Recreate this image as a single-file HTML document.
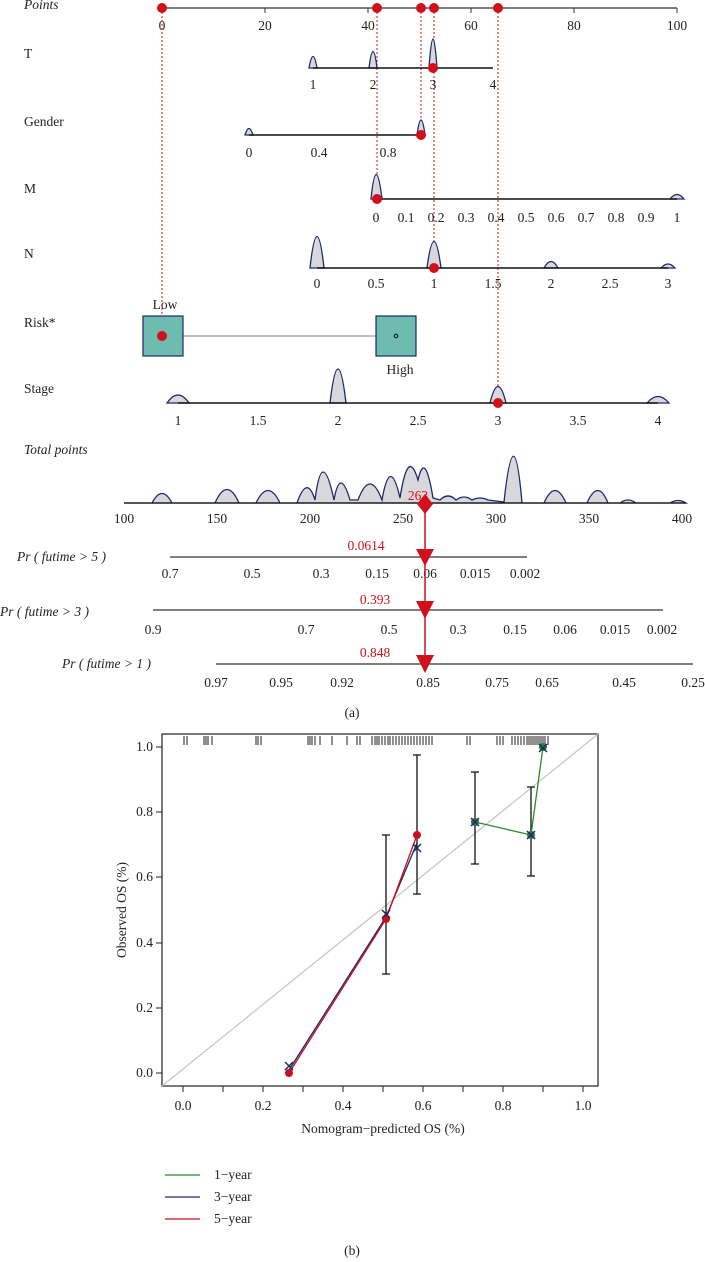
<!DOCTYPE html>
<html><head><meta charset="utf-8"><style>
html,body{margin:0;padding:0;background:#fff}
svg{display:block}
text{font-family:"Liberation Serif",serif;font-size:13.5px;fill:#222}
.it{font-style:italic}
.r{fill:#d0101a}
</style></head><body>
<svg width="705" height="1262" viewBox="0 0 705 1262" xmlns="http://www.w3.org/2000/svg">
<!-- Points -->
<text x="24" y="9" class="it">Points</text>
<line x1="162" y1="8" x2="677" y2="8" stroke="#333" stroke-width="1.3"/>
<g stroke="#333"><line x1="162" y1="8" x2="162" y2="13"/><line x1="265" y1="8" x2="265" y2="13"/><line x1="368" y1="8" x2="368" y2="13"/><line x1="471" y1="8" x2="471" y2="13"/><line x1="574" y1="8" x2="574" y2="13"/><line x1="677" y1="8" x2="677" y2="13"/></g>
<g text-anchor="middle"><text x="162" y="30">0</text><text x="265" y="30">20</text><text x="368" y="30">40</text><text x="471" y="30">60</text><text x="574" y="30">80</text><text x="677" y="30">100</text></g>
<!-- dotted red lines -->
<g stroke="#d0101a" stroke-dasharray="2,2" stroke-width="1">
<line x1="162" y1="8" x2="162" y2="336"/><line x1="377" y1="8" x2="377" y2="199"/><line x1="421" y1="8" x2="421" y2="135"/><line x1="434" y1="8" x2="434" y2="268"/><line x1="498" y1="8" x2="498" y2="403"/></g>
<!-- T -->
<text x="24" y="58">T</text>
<g fill="#d8d8dc" stroke="#1a2a6c" stroke-width="1.3">
<path d="M309,68 Q313,45 317,68Z"/><path d="M369,68 Q373,35 377,68Z"/><path d="M429,68 Q433,10 437,68Z"/>
<path d="M245,135 Q249,122 253,135Z"/><path d="M417,135 Q421,105 425,135Z"/>
<path d="M371,199 Q376,150 382,199Z"/><path d="M670,199 Q677,190 684,199Z"/>
<path d="M310,268 Q317,205 324,268Z"/><path d="M427,268 Q434,215 441,268Z"/><path d="M544,268 Q551,255 558,268Z"/><path d="M661,268 Q668,260 675,268Z"/>
<path d="M167,403 Q178,387 189,403Z"/><path d="M330,403 Q338,335 346,403Z"/><path d="M490,403 Q498,370 506,403Z"/><path d="M647,403 Q658,390 669,403Z"/>
</g>
<line x1="313" y1="68" x2="493" y2="68" stroke="#111" stroke-width="1.6"/>
<g text-anchor="middle"><text x="313" y="89">1</text><text x="373" y="89">2</text><text x="433" y="89">3</text><text x="493" y="89">4</text></g>
<!-- Gender -->
<text x="24" y="126">Gender</text>
<line x1="249" y1="135" x2="421" y2="135" stroke="#111" stroke-width="1.6"/>
<g text-anchor="middle"><text x="249" y="157">0</text><text x="319" y="157">0.4</text><text x="388" y="157">0.8</text></g>
<!-- M -->
<text x="24" y="193">M</text>
<line x1="376" y1="199" x2="677" y2="199" stroke="#111" stroke-width="1.6"/>
<g text-anchor="middle"><text x="376" y="222">0</text><text x="406" y="222">0.1</text><text x="436" y="222">0.2</text><text x="466" y="222">0.3</text><text x="496" y="222">0.4</text><text x="526" y="222">0.5</text><text x="556" y="222">0.6</text><text x="586" y="222">0.7</text><text x="616" y="222">0.8</text><text x="646" y="222">0.9</text><text x="677" y="222">1</text></g>
<!-- N -->
<text x="24" y="258">N</text>
<line x1="317" y1="268" x2="668" y2="268" stroke="#111" stroke-width="1.6"/>
<g text-anchor="middle"><text x="317" y="288">0</text><text x="376" y="288">0.5</text><text x="434" y="288">1</text><text x="493" y="288">1.5</text><text x="551" y="288">2</text><text x="610" y="288">2.5</text><text x="668" y="288">3</text></g>
<!-- Risk -->
<text x="24" y="327">Risk*</text>
<line x1="183" y1="336" x2="376" y2="336" stroke="#999" stroke-width="1.3"/>
<rect x="143" y="316" width="40" height="40" fill="#6dbcaf" stroke="#1a2a6c" stroke-width="1.2"/>
<rect x="376" y="316" width="40" height="40" fill="#6dbcaf" stroke="#1a2a6c" stroke-width="1.2"/>
<circle cx="396" cy="336" r="1.8" fill="none" stroke="#111"/>
<text x="165" y="309" text-anchor="middle">Low</text>
<text x="400" y="374" text-anchor="middle">High</text>
<!-- Stage -->
<text x="24" y="393">Stage</text>
<line x1="178" y1="403" x2="658" y2="403" stroke="#111" stroke-width="1.6"/>
<g text-anchor="middle"><text x="178" y="425">1</text><text x="258" y="425">1.5</text><text x="338" y="425">2</text><text x="418" y="425">2.5</text><text x="498" y="425">3</text><text x="578" y="425">3.5</text><text x="658" y="425">4</text></g>
<!-- red dots -->
<g fill="#d0101a"><circle cx="162" cy="8" r="5"/><circle cx="377" cy="8" r="5"/><circle cx="421" cy="8" r="5"/><circle cx="434" cy="8" r="5"/><circle cx="498" cy="8" r="5"/>
<circle cx="433" cy="68" r="5"/><circle cx="421" cy="135" r="5"/><circle cx="377" cy="199" r="5"/><circle cx="434" cy="268" r="5"/><circle cx="162" cy="336" r="5"/><circle cx="498" cy="403" r="5"/></g>
<!-- Total points -->
<text x="24" y="454" class="it">Total points</text>
<path d="M124,503 L152,503 Q162,484 172,503 L215,503 Q227,476 239,503 L256,503 Q268,478 280,503 L297,503 Q307,474 315,500 Q322,444 334,500 Q340,466 350,500 L358,500 Q370,468 382,500 Q390,454 400,498 Q408,446 418,480 Q425,449 433,498 L440,500 Q448,492 456,500 Q464,494 472,500 Q480,496 488,500 L504,502 Q514,410 522,503 L544,503 Q555,478 566,503 L587,503 Q598,478 608,503 L620,503 Q628,497 636,503 L670,503 Q678,498 686,503 Z" fill="#d8d8dc" stroke="#1a2a6c" stroke-width="1.3"/>
<line x1="124" y1="503" x2="686" y2="503" stroke="#111" stroke-width="1.3"/>
<g text-anchor="middle"><text x="124" y="523">100</text><text x="217" y="523">150</text><text x="310" y="523">200</text><text x="403" y="523">250</text><text x="496" y="523">300</text><text x="589" y="523">350</text><text x="682" y="523">400</text></g>
<!-- Pr lines -->
<text x="17" y="561" class="it">Pr ( futime &gt; 5 )</text>
<line x1="170" y1="557" x2="527" y2="557" stroke="#333" stroke-width="1.3"/>
<g text-anchor="middle"><text x="170" y="578">0.7</text><text x="252" y="578">0.5</text><text x="321" y="578">0.3</text><text x="377" y="578">0.15</text><text x="425" y="578">0.06</text><text x="475" y="578">0.015</text><text x="525" y="578">0.002</text></g>
<text x="0" y="616" class="it">Pr ( futime &gt; 3 )</text>
<line x1="153" y1="610" x2="663" y2="610" stroke="#333" stroke-width="1.3"/>
<g text-anchor="middle"><text x="153" y="634">0.9</text><text x="306" y="634">0.7</text><text x="389" y="634">0.5</text><text x="458" y="634">0.3</text><text x="515" y="634">0.15</text><text x="565" y="634">0.06</text><text x="615" y="634">0.015</text><text x="662" y="634">0.002</text></g>
<text x="62" y="668" class="it">Pr ( futime &gt; 1 )</text>
<line x1="216" y1="664" x2="693" y2="664" stroke="#333" stroke-width="1.3"/>
<g text-anchor="middle"><text x="216" y="687">0.97</text><text x="281" y="687">0.95</text><text x="342" y="687">0.92</text><text x="428" y="687">0.85</text><text x="497" y="687">0.75</text><text x="547" y="687">0.65</text><text x="624" y="687">0.45</text><text x="693" y="687">0.25</text></g>
<line x1="425" y1="503" x2="425" y2="664" stroke="#d0101a" stroke-width="1.5"/>
<path d="M425,494 L433,504 L425,514 L417,504Z" fill="#d0101a"/>
<path d="M416,549 L434,549 L425,566Z" fill="#d0101a"/>
<path d="M416,601 L434,601 L425,619Z" fill="#d0101a"/>
<path d="M416,655 L434,655 L425,673Z" fill="#d0101a"/>
<text x="418" y="500" class="r" text-anchor="middle">263</text>
<text x="366" y="550" class="r" text-anchor="middle">0.0614</text>
<text x="375" y="604" class="r" text-anchor="middle">0.393</text>
<text x="375" y="657" class="r" text-anchor="middle">0.848</text>
<text x="352" y="717" text-anchor="middle">(a)</text>
<!-- Calibration -->
<rect x="162" y="734" width="436" height="352" fill="none" stroke="#222" stroke-width="1.2"/>
<line x1="162" y1="1086" x2="598" y2="734" stroke="#c8c8c8" stroke-width="1.3"/>
<g stroke="#222" stroke-width="1">
<path d="M183,1086v6M223,1086v6M263,1086v6M303,1086v6M343,1086v6M383,1086v6M423,1086v6M463,1086v6M503,1086v6M543,1086v6M583,1086v6"/>
<path d="M162,1073h-6M162,1008h-6M162,943h-6M162,877h-6M162,812h-6M162,747h-6"/>
<path d="M184,736v9M187,736v9M204,736v9M206,736v9M208,736v9M212,736v9M256,736v9M258,736v9M261,736v9M308,736v9M310,736v9M312,736v9M315,736v9M320,736v9M332,736v9M347,736v9M357,736v9M360,736v9M372,736v9M375,736v9M377,736v9M379,736v9M382,736v9M385,736v9M388,736v9M390,736v9M393,736v9M396,736v9M399,736v9M402,736v9M405,736v9M408,736v9M411,736v9M414,736v9M417,736v9M420,736v9M423,736v9M426,736v9M429,736v9M432,736v9M467,736v9M470,736v9M497,736v9M500,736v9M503,736v9M512,736v9M515,736v9M518,736v9M521,736v9M524,736v9M527,736v9M529,736v9M531,736v9M533,736v9M535,736v9M537,736v9M539,736v9M541,736v9M543,736v9M545,736v9M548,736v9"/>
</g>
<g>
<text x="183" y="1110" text-anchor="middle">0.0</text><text x="263" y="1110" text-anchor="middle">0.2</text><text x="343" y="1110" text-anchor="middle">0.4</text><text x="423" y="1110" text-anchor="middle">0.6</text><text x="503" y="1110" text-anchor="middle">0.8</text><text x="583" y="1110" text-anchor="middle">1.0</text>
<text x="153" y="1077" text-anchor="end">0.0</text><text x="153" y="1012" text-anchor="end">0.2</text><text x="153" y="947" text-anchor="end">0.4</text><text x="153" y="881" text-anchor="end">0.6</text><text x="153" y="816" text-anchor="end">0.8</text><text x="153" y="751" text-anchor="end">1.0</text>
</g>
<text x="383" y="1133" text-anchor="middle">Nomogram−predicted OS (%)</text>
<text transform="translate(126,910) rotate(-90)" text-anchor="middle">Observed OS (%)</text>
<!-- error bars -->
<g stroke="#111" stroke-width="1.3">
<path d="M386,974V835M382,974h8M382,835h8"/>
<path d="M417,894V755M413,894h8M413,755h8"/>
<path d="M475,864V772M471,864h8M471,772h8"/>
<path d="M531,876V787M527,876h8M527,787h8"/>
</g>
<polyline points="475,822 531,835 543,747" fill="none" stroke="#2a8a2a" stroke-width="1.3"/>
<polyline points="289,1070 386,917 417,843" fill="none" stroke="#1a2a6c" stroke-width="1.3"/>
<polyline points="289,1073 386,919 417,835" fill="none" stroke="#c8101a" stroke-width="1.3"/>
<g fill="#2a7a3a"><circle cx="475" cy="822" r="4"/><circle cx="531" cy="835" r="4"/><circle cx="543" cy="747" r="4"/></g>
<g fill="#c8101a"><circle cx="289" cy="1073" r="4"/><circle cx="386" cy="919" r="4"/><circle cx="417" cy="835" r="4"/></g>
<g stroke="#1a2a6c" stroke-width="1.5">
<path d="M285,1062l8,8M293,1062l-8,8"/><path d="M382,910l8,8M390,910l-8,8"/><path d="M413,844l8,8M421,844l-8,8"/><path d="M471,818l8,8M479,818l-8,8"/><path d="M527,831l8,8M535,831l-8,8"/><path d="M539,744l8,8M547,744l-8,8"/>
</g>
<!-- legend -->
<line x1="165" y1="1175" x2="200" y2="1175" stroke="#2a8a2a" stroke-width="1.3"/>
<line x1="165" y1="1197" x2="200" y2="1197" stroke="#1a2a6c" stroke-width="1.3"/>
<line x1="165" y1="1219" x2="200" y2="1219" stroke="#c8101a" stroke-width="1.3"/>
<text x="214" y="1179">1−year</text><text x="214" y="1201">3−year</text><text x="214" y="1223">5−year</text>
<text x="352" y="1255" text-anchor="middle">(b)</text>
</svg>
</body></html>
